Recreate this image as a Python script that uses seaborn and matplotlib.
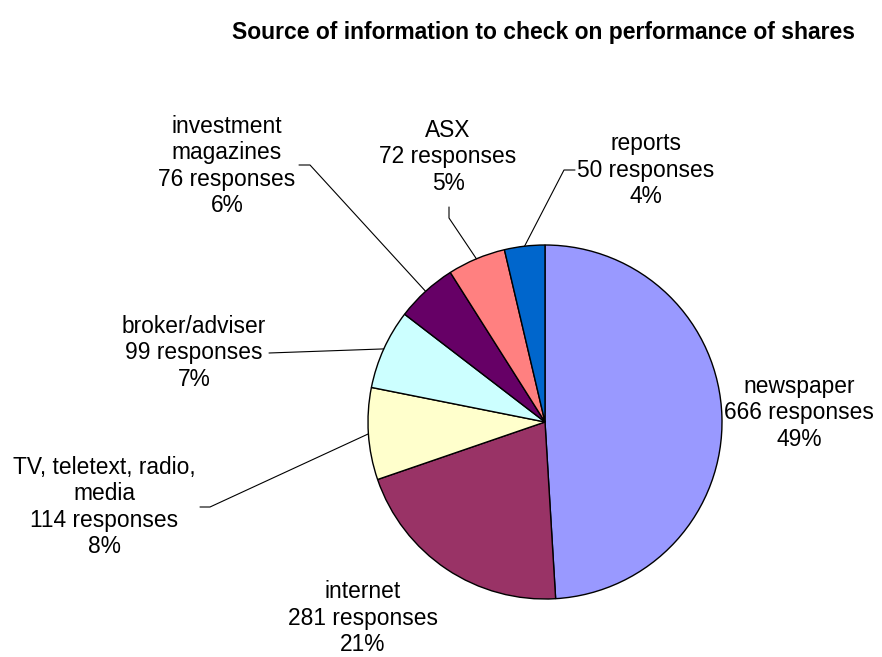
import numpy as np
import matplotlib
matplotlib.use("Agg")
import matplotlib.pyplot as plt
import seaborn as sns

# ---- data ----
categories = ["newspaper", "internet", "TV, teletext, radio,\nmedia", "broker/adviser",
              "investment\nmagazines", "ASX", "reports"]
responses = [666, 281, 114, 99, 76, 72, 50]
colors = ["#9999FF", "#993366", "#FFFFCC", "#CCFFFF", "#660066", "#FF8080", "#0066CC"]
title = "Source of information to check on performance of shares"

sns.set_theme(style="white")
plt.rcParams["font.family"] = ["Liberation Sans", "DejaVu Sans"]

W, H, DPI = 882, 657, 100
fig = plt.figure(figsize=(W / DPI, H / DPI), dpi=DPI)
ax = fig.add_axes([0, 0, 1, 1])

# layout: pie centre / radius in pixels
CX, CY, R = 545, 422, 177

def px(x, y):
    return ((x - CX) / R, (CY - y) / R)

wedges, _ = ax.pie(responses, colors=colors, startangle=90, counterclock=False,
                   radius=1.0, center=(0, 0),
                   wedgeprops=dict(edgecolor="black", linewidth=1.0))
ax.set_aspect("auto")
ax.set_xlim(-CX / R, (W - CX) / R)
ax.set_ylim(-(H - CY) / R, CY / R)
ax.axis("off")

# label layout (pixel positions of text centres) and leader elbows
label_pos = [(799, 413), (363, 618), (104, 507), (194, 353), (227, 166), (448, 157), (646, 170)]
leaders = [None, None,
           [(210, 507), (200, 507)],
           [(269, 353)],
           [(310, 165), (299, 165)],
           [(449, 218), (449, 207)],
           [(564, 170), (575, 170)]]

total = sum(responses)
for w, cat, v, pos, ld in zip(wedges, categories, responses, label_pos, leaders):
    pct = round(v / total * 100)
    txt = f"{cat}\n{v} responses\n{pct}%"
    tx, ty = px(*pos)
    ax.text(tx, ty, txt, ha="center", va="center", fontsize=16.4,
            linespacing=1.17, color="black", multialignment="center")
    if ld is not None:
        ang = np.deg2rad((w.theta1 + w.theta2) / 2)
        pts = [(np.cos(ang), np.sin(ang))] + [px(*p) for p in ld]
        xs, ys = zip(*pts)
        ax.plot(xs, ys, color="black", linewidth=0.8)

fig.text(543 / W, 1 - 33 / H, title, ha="center", va="center",
         fontsize=16.5, fontweight="bold", color="black")

fig.savefig("out.png", dpi=DPI, facecolor="white")
